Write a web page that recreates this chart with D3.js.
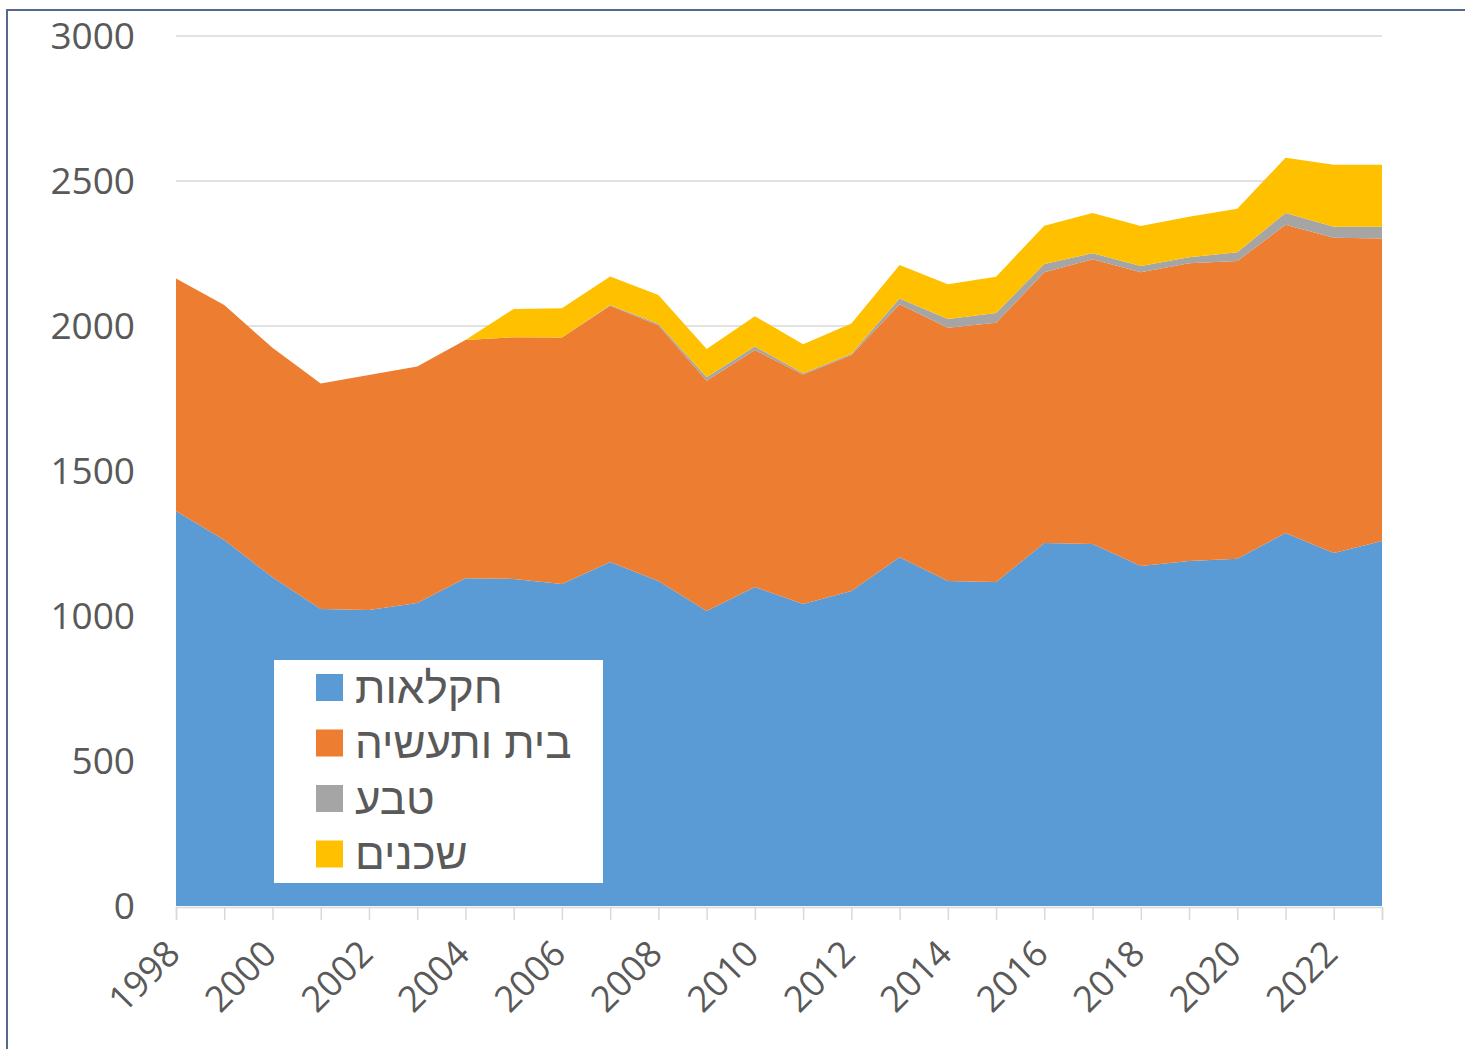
<!DOCTYPE html>
<html>
<head>
<meta charset="utf-8">
<script src="https://cdn.jsdelivr.net/npm/d3@7"></script>
<style>
  body { margin: 0; background: #fff; }
  svg { display: block; font-family: "Open Sans", "DejaVu Sans", sans-serif; }
</style>
</head>
<body>
<svg width="1465" height="1049"></svg>
<script>
const years = d3.range(1998, 2024);
// agriculture
const agriculture = [1362, 1262, 1134, 1024, 1021, 1045, 1130, 1128, 1110, 1186, 1121, 1017, 1100,
  1041, 1086, 1203, 1121, 1117, 1252, 1248, 1172, 1190, 1197, 1286, 1217, 1259];
// home and industry
const homeIndustry = [802, 810, 791, 778, 810, 815, 822, 833, 850, 884, 882, 794, 817,
  792, 814, 872, 873, 894, 933, 982, 1013, 1026, 1027, 1063, 1087, 1043];
// nature
const nature = [0, 0, 0, 0, 0, 0, 0, 0, 0, 2, 5, 12, 12,
  4, 4, 20, 30, 34, 29, 21, 22, 21, 30, 41, 38, 40];
// neighbours
const neighbours = [0, 0, 0, 0, 0, 0, 0, 98, 101, 99, 99, 98, 105,
  100, 105, 115, 120, 125, 132, 139, 138, 140, 150, 190, 214, 214];

const seriesKeys = ['agr', 'home', 'nature', 'neigh'];
const seriesNames = ['חקלאות', 'בית ותעשיה', 'טבע', 'שכנים'];
const seriesColors = ['#5b9bd5', '#ed7d31', '#a5a5a5', '#ffc000'];
const yTicks = [0, 500, 1000, 1500, 2000, 2500, 3000];
const xLabelYears = d3.range(1998, 2023, 2);

const svg = d3.select('svg');

const rows = years.map((yr, i) => ({
  year: yr, agr: agriculture[i], home: homeIndustry[i], nature: nature[i], neigh: neighbours[i]
}));

const x = d3.scaleLinear().domain([1998, 2023]).range([176, 1382]);
const y = d3.scaleLinear().domain([0, 3000]).range([906, 36]);

// outer chart border (only left and top in view)
svg.append('rect')
  .attr('x', 7).attr('y', 10)
  .attr('width', 1480).attr('height', 1060)
  .attr('fill', 'none')
  .attr('stroke', '#56698c')
  .attr('stroke-width', 2);

// gridlines
svg.append('g')
  .selectAll('line')
  .data(yTicks.filter(d => d > 0))
  .join('line')
    .attr('x1', x(1998)).attr('x2', x(2023))
    .attr('y1', d => y(d)).attr('y2', d => y(d))
    .attr('stroke', '#d9d9d9')
    .attr('stroke-width', 1.5);

const stack = d3.stack().keys(seriesKeys);
const layers = stack(rows);

const area = d3.area()
  .x(d => x(d.data.year))
  .y0(d => y(d[0]))
  .y1(d => y(d[1]));

svg.append('g')
  .selectAll('path')
  .data(layers)
  .join('path')
    .attr('d', area)
    .attr('fill', (d, i) => seriesColors[i]);

// x axis line + ticks
const xAxis = d3.axisBottom(x)
  .tickValues(years)
  .tickSize(13)
  .tickFormat('');
const gx = svg.append('g')
  .attr('transform', 'translate(0,' + (y(0) + 1) + ')')
  .call(xAxis);
gx.select('.domain').attr('stroke', '#d9d9d9').attr('stroke-width', 1.5);
gx.selectAll('.tick line').attr('stroke', '#d9d9d9').attr('stroke-width', 1.5);

// x labels, rotated
svg.append('g')
  .selectAll('text')
  .data(xLabelYears)
  .join('text')
    .attr('transform', d => 'translate(' + (x(d) + 6) + ',' + 956 + ') rotate(-45)')
    .attr('text-anchor', 'end')
    .attr('font-size', 36)
    .attr('fill', '#595959')
    .text(d => d);

// y labels
svg.append('g')
  .selectAll('text')
  .data(yTicks)
  .join('text')
    .attr('x', 135)
    .attr('y', d => y(d))
    .attr('dy', '0.35em')
    .attr('text-anchor', 'end')
    .attr('font-size', 37)
    .attr('fill', '#595959')
    .text(d => d);

// legend
const legend = svg.append('g');
legend.append('rect')
  .attr('x', 274).attr('y', 660)
  .attr('width', 329).attr('height', 223)
  .attr('fill', '#fff');

const item = legend.selectAll('g.item')
  .data(seriesNames)
  .join('g')
    .attr('class', 'item')
    .attr('transform', (d, i) => 'translate(0,' + (688 + i * 55.5) + ')');

item.append('rect')
  .attr('x', 316).attr('y', -14)
  .attr('width', 27).attr('height', 27)
  .attr('fill', (d, i) => seriesColors[i]);

item.append('text')
  .attr('x', 355)
  .attr('y', 0)
  .attr('dy', '0.34em')
  .attr('text-anchor', 'start')
  .attr('font-family', '"Liberation Sans", "DejaVu Sans", sans-serif')
  .attr('font-size', 44)
  .attr('fill', '#595959')
  .text(d => d);
</script>
</body>
</html>
